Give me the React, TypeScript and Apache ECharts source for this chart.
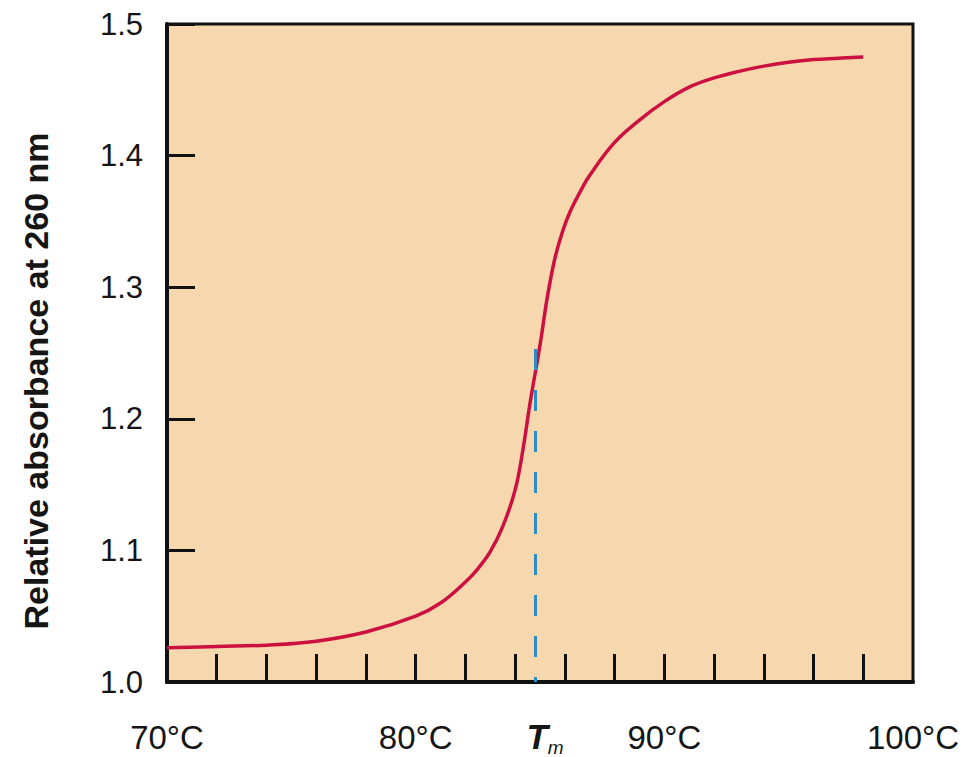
import React, { useEffect, useRef } from "react";
import * as echarts from "echarts";

// Temperature (°C) and relative absorbance at 260 nm
const temps = [70, 72, 74, 76, 78, 80, 81, 82, 82.5, 83, 83.5, 84, 84.3, 84.6, 85, 85.3, 85.6, 85.9, 86.2, 86.6, 87, 88, 89, 90, 91, 92, 93, 94, 95, 96, 97, 98];
const absorbance = [1.026, 1.027, 1.028, 1.031, 1.038, 1.05, 1.06, 1.076, 1.086, 1.099, 1.118, 1.146, 1.175, 1.212, 1.256, 1.293, 1.322, 1.342, 1.357, 1.372, 1.385, 1.41, 1.427, 1.441, 1.452, 1.459, 1.464, 1.468, 1.471, 1.473, 1.474, 1.475];

const tm = 84.8;
const tmLineTop = 1.253;
const xLabelValues = [70, 80, tm, 90, 100];
const xTickValues = [72, 74, 76, 78, 80, 82, 84, 86, 88, 90, 92, 94, 96, 98];
const yMin = 1.0;
const yMax = 1.5;
const yStep = 0.1;

const FONT = "'Liberation Sans', Arial, Helvetica, sans-serif";

export default function App() {
  const ref = useRef<HTMLDivElement>(null);
  useEffect(() => {
    document.body.style.margin = "0";
    if (!ref.current) return;
    const chart = echarts.init(ref.current, null, { renderer: "svg" });
    chart.setOption({
      animation: false,
      backgroundColor: "#ffffff",
      grid: {
        left: 167,
        right: 51,
        top: 24,
        bottom: 75,
        show: true,
        backgroundColor: "#f7d8ae",
        borderColor: "#111111",
        borderWidth: 3,
        outerBoundsMode: "none",
      },
      xAxis: {
        type: "value",
        min: 70,
        max: 100,
        splitLine: { show: false },
        axisLine: { show: true, lineStyle: { color: "#111111", width: 4 } },
        axisTick: {
          show: true,
          inside: true,
          length: 28,
          customValues: xTickValues,
          lineStyle: { color: "#111111", width: 3 },
        },
        axisLabel: {
          customValues: xLabelValues,
          margin: 37,
          fontSize: 33,
          lineHeight: 36,
          color: "#151515",
          fontFamily: FONT,
          formatter: (v: number) => (Math.abs(v - tm) < 1e-6 ? "{t|T}{m|m}" : `${v}°C`),
          rich: {
            t: {
              fontSize: 35,
              fontWeight: "bold",
              fontStyle: "italic",
              lineHeight: 36,
              verticalAlign: "top",
              padding: [0, 0, 0, 20],
              fontFamily: FONT,
              color: "#151515",
            },
            m: {
              fontSize: 19,
              fontStyle: "italic",
              lineHeight: 18,
              verticalAlign: "top",
              padding: [19, 0, 0, 0],
              fontFamily: FONT,
              color: "#151515",
            },
          },
        },
      },
      yAxis: {
        type: "value",
        min: yMin,
        max: yMax,
        interval: yStep,
        splitLine: { show: false },
        axisLine: { show: true, lineStyle: { color: "#111111", width: 4 } },
        axisTick: { show: true, inside: true, length: 28, lineStyle: { color: "#111111", width: 3 } },
        axisLabel: {
          margin: 24,
          fontSize: 31,
          color: "#151515",
          fontFamily: FONT,
          formatter: (v: number) => v.toFixed(1),
        },
        name: "Relative absorbance at 260 nm",
        nameLocation: "middle",
        nameGap: 114,
        nameTextStyle: {
          fontSize: 34,
          fontWeight: "bold",
          color: "#151515",
          fontFamily: FONT,
          padding: [0, 56, 0, 0],
        },
      },
      series: [
        {
          type: "line",
          data: temps.map((t, i) => [t, absorbance[i]]),
          smooth: 0.4,
          symbol: "none",
          lineStyle: { color: "#cc1040", width: 3.5 },
          z: 2,
        },
        {
          type: "line",
          data: [],
          symbol: "none",
          z: 3,
          markLine: {
            silent: true,
            symbol: "none",
            label: { show: false },
            lineStyle: { color: "#2a8fc6", width: 3, type: [21, 20] },
            data: [[{ coord: [tm, tmLineTop] }, { coord: [tm, yMin] }]],
          },
        },
      ],
    });
    return () => chart.dispose();
  }, []);
  return <div ref={ref} style={{ width: 964, height: 757 }} />;
}
